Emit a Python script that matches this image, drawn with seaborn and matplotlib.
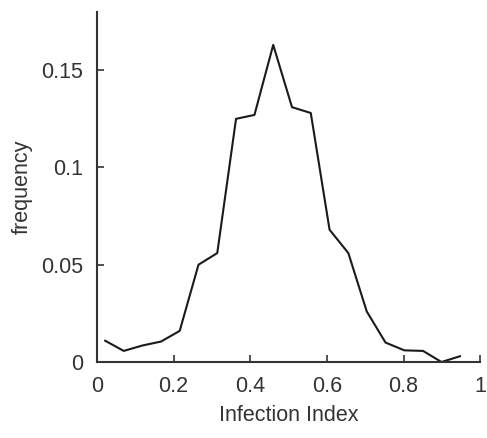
import matplotlib
matplotlib.use("Agg")
import matplotlib.pyplot as plt
import seaborn as sns
import pandas as pd

infection_index = [0.021, 0.070, 0.119, 0.167, 0.216, 0.265, 0.314, 0.363, 0.411, 0.460,
                   0.509, 0.558, 0.607, 0.656, 0.704, 0.753, 0.802, 0.851, 0.899, 0.948]
frequency = [0.011, 0.0057, 0.0085, 0.0105, 0.016, 0.050, 0.056, 0.125, 0.127, 0.163,
             0.131, 0.128, 0.068, 0.056, 0.026, 0.010, 0.006, 0.0057, 0.0, 0.003]
x_ticks = [0, 0.2, 0.4, 0.6, 0.8, 1]
x_tick_labels = ["0", "0.2", "0.4", "0.6", "0.8", "1"]
y_ticks = [0, 0.05, 0.1, 0.15]
y_tick_labels = ["0", "0.05", "0.1", "0.15"]

sns.set_style("ticks")
plt.rcParams['font.family'] = ['Liberation Sans', 'DejaVu Sans']

df = pd.DataFrame({"Infection Index": infection_index, "frequency": frequency})

fig = plt.figure(figsize=(4.87, 4.38), dpi=100)
ax = fig.add_axes([0.199, 0.1735, 0.787, 0.7995])
sns.lineplot(data=df, x="Infection Index", y="frequency", ax=ax,
             color="#1a1a1a", linewidth=1.5)

ax.set_xlim(0, 1)
ax.set_ylim(0, 0.18)
ax.set_xticks(x_ticks)
ax.set_xticklabels(x_tick_labels)
ax.set_yticks(y_ticks)
ax.set_yticklabels(y_tick_labels)
ax.tick_params(direction="in", length=5, width=1.2, labelsize=15.5, colors="#333333", pad=10)
for s in ["top", "right"]:
    ax.spines[s].set_visible(False)
for s in ["left", "bottom"]:
    ax.spines[s].set_linewidth(1.5)
    ax.spines[s].set_color("#333333")
ax.set_xlabel("Infection Index", fontsize=15.5, color="#333333", labelpad=6)
ax.set_ylabel("frequency", fontsize=15.5, color="#333333", labelpad=6)

fig.savefig("out.png", dpi=100)
